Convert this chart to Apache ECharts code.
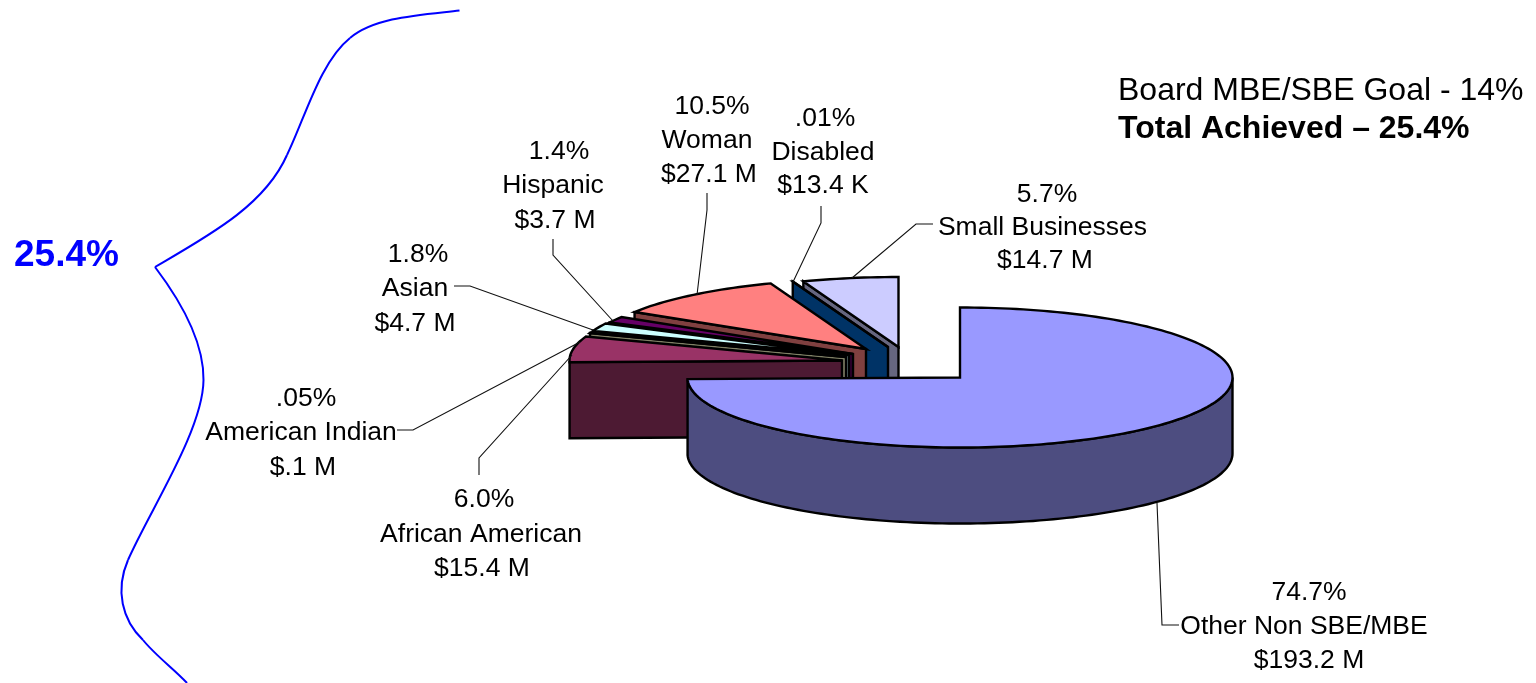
<!DOCTYPE html>
<html>
<head>
<meta charset="utf-8">
<style>html,body{margin:0;padding:0;background:#fff}#chart{width:1536px;height:683px}</style>
<script src="https://cdn.jsdelivr.net/npm/echarts@6/dist/echarts.min.js"></script>
</head>
<body>
<div id="chart"></div>
<script>
// ---- data ----
const categories = ['Other Non SBE/MBE','African American','American Indian','Asian','Hispanic','Woman','Disabled','Small Businesses'];
const amountsMillions = [193.2, 15.4, 0.1, 4.7, 3.7, 27.1, 0.0134, 14.7];
const percentLabels = ['74.7%','6.0%','.05%','1.8%','1.4%','10.5%','.01%','5.7%'];
const amountLabels = ['$193.2 M','$15.4 M','$.1 M','$4.7 M','$3.7 M','$27.1 M','$13.4 K','$14.7 M'];
const goalLine = 'Board MBE/SBE Goal - 14%';
const achievedLine = 'Total Achieved \u2013 25.4%';
const bracketLabel = '25.4%';

// ---- styling and layout (not data) ----
const topColors = ['#9999ff','#993366','#ffffcc','#ccffff','#660066','#ff8080','#0066cc','#ccccff'];
const wallColors = ['#4d4d80','#4d1a33','#808066','#668080','#330033','#804040','#003366','#666680'];
const FONT = '"Liberation Sans", Arial, sans-serif';
const RX = 272.5, RY = 70, DEPTH = 76;
// exploded apex of each slice
const apexes = [[960,377.5],[842,360.5],[846,357],[849,355],[853,354],[866,349],[888,347],[898.5,347]];
// label lines, per slice: x of each of the three lines, y of each
const labelLineX = [[1309,1304,1309],[484,481,482],[306,301,303],[418,415,415],[559,553,555],[712,707,709],[825,823,823],[1047,1042.5,1045]];
const labelLineY = [[593,627,661],[500,535,569],[399,433,468],[255,289,324],[152,186,221],[107,141,175],[119,153,186],[195,228,261]];
const leaders = [
  [[1157,503],[1162,625],[1179,625]],
  [[572,355],[479,458],[479,475]],
  [[580,342],[413,430],[397,430]],
  [[593,330],[470,286],[454,286]],
  [[613,321],[553,255],[553,239]],
  [[697,295],[707,210],[707,193]],
  [[793,282],[821,223],[821,206]],
  [[852,278],[916,224],[933,224]]
];
// bracket curve: start, then [c1x,c1y,c2x,c2y,x,y] segments
const braceStart = [459.5, 10.5];
const braceSegments = [
  [420,15,375,17,350,38],
  [320,62,305,118,287,155],
  [265,205,210,235,155,267],
  [180,300,204,340,203.5,380],
  [203,430,150,510,128,560],
  [115,590,122,620,143,640],
  [155,655,175,670,187,683]
];

const total = amountsMillions.reduce((a, b) => a + b, 0);
function pt(apex, deg, dy) {
  const r = deg * Math.PI / 180;
  return [apex[0] + RX * Math.sin(r), apex[1] - RY * Math.cos(r) + (dy || 0)];
}
function arc(apex, from, to, dy) {
  const n = Math.max(1, Math.ceil(Math.abs(to - from) / 1.5)), out = [];
  for (let i = 0; i <= n; i++) out.push(pt(apex, from + (to - from) * i / n, dy));
  return out;
}
function renderSlice(params, api) {
  const i = params.dataIndex;
  const value = api.value(0);
  let before = 0;
  for (let k = 0; k < i; k++) before += amountsMillions[k];
  const a0 = before / total * 360, a1 = (before + value) / total * 360;
  const apex = apexes[i];
  const rank = i === 0 ? 30 : 20 - i * 2;
  const stroke = { stroke: '#000', lineWidth: 2.4, lineJoin: 'miter' };
  const children = [];
  let wall;
  if (i === 0) {
    const a = arc(apex, 90, a1, 0);
    wall = a.concat(arc(apex, a1, 90, DEPTH));
  } else {
    const p = pt(apex, a0);
    wall = [apex, p, [p[0], p[1] + DEPTH], [apex[0], apex[1] + DEPTH]];
  }
  children.push({ type: 'polygon', z2: rank, shape: { points: wall }, style: Object.assign({ fill: wallColors[i] }, stroke) });
  children.push({ type: 'polygon', z2: rank + 1, shape: { points: [apex].concat(arc(apex, a0, a1, 0)) }, style: Object.assign({ fill: topColors[i] }, stroke) });
  children.push({ type: 'polyline', z2: 50, shape: { points: leaders[i] }, style: { stroke: '#111', lineWidth: 1.1, fill: null } });
  [percentLabels[i], categories[i], amountLabels[i]].forEach((line, k) => {
    children.push({ type: 'text', z2: 60, style: {
      text: line, x: labelLineX[i][k], y: labelLineY[i][k], align: 'center', verticalAlign: 'middle',
      font: '26.5px ' + FONT, fill: '#000' } });
  });
  return { type: 'group', children };
}

let prev = braceStart;
const braceElements = braceSegments.map(s => {
  const el = { type: 'bezierCurve', shape: { x1: prev[0], y1: prev[1], cpx1: s[0], cpy1: s[1], cpx2: s[2], cpy2: s[3], x2: s[4], y2: s[5] },
    style: { stroke: '#0000ff', lineWidth: 2, fill: null } };
  prev = [s[4], s[5]];
  return el;
});

const chart = echarts.init(document.getElementById('chart'), null, { renderer: 'canvas' });
chart.setOption({
  animation: false,
  backgroundColor: '#fff',
  graphic: braceElements.concat([
    { type: 'text', x: 14, y: 256, style: { text: bracketLabel, font: 'bold 37px ' + FONT, fill: '#0000ff', verticalAlign: 'middle' } },
    { type: 'text', x: 1118, y: 91, style: { text: goalLine, font: '32px ' + FONT, fill: '#000', verticalAlign: 'middle' } },
    { type: 'text', x: 1118, y: 129, style: { text: achievedLine, font: 'bold 32px ' + FONT, fill: '#000', verticalAlign: 'middle' } }
  ]),
  series: [{
    type: 'custom',
    coordinateSystem: 'none',
    renderItem: renderSlice,
    data: amountsMillions.map(v => [v])
  }]
});
</script>
</body>
</html>
